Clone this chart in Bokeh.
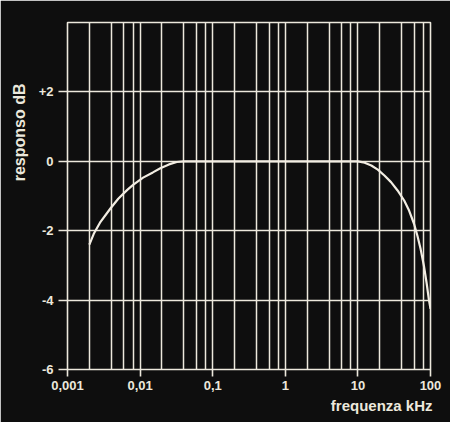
from bokeh.plotting import figure
from bokeh.models import FixedTicker, CustomJSTickFormatter, Range1d, Title
from bokeh.embed import file_html
from bokeh.resources import INLINE

# ---- data ----
freq_khz = [0.002, 0.0023, 0.0028, 0.0039, 0.005, 0.0066, 0.008, 0.011, 0.015, 0.019,
            0.025, 0.032, 0.04, 0.1, 1, 10, 12.4, 15.3, 18.8, 23.2, 28.6, 35.2, 43.4,
            50.7, 59.3, 65.9, 73.1, 81.1, 88.3, 94.9, 100]
resp_db = [-2.4, -2.09, -1.77, -1.36, -1.08, -0.83, -0.68, -0.47, -0.32, -0.2,
           -0.09, -0.02, 0.0, 0.0, 0.0, 0.0, -0.04, -0.12, -0.24, -0.41, -0.6, -0.84, -1.13,
           -1.42, -1.8, -2.14, -2.53, -3.01, -3.5, -3.98, -4.25]

x_major = [0.001, 0.01, 0.1, 1, 10, 100]
x_grid = [m * d for d in [0.001, 0.01, 0.1, 1, 10] for m in [1, 2, 4, 6, 8]] + [100]
y_ticks = [-6, -4, -2, 0, 2]

bg = "#0e0e0e"
fg = "#ece8dc"
font = "Liberation Sans"

p = figure(width=450, height=422, x_axis_type="log",
           x_range=Range1d(0.001, 100), y_range=Range1d(-6, 4),
           output_backend="svg", toolbar_location=None,
           background_fill_color=bg, border_fill_color=bg,
           min_border=0, min_border_left=67, min_border_right=20,
           min_border_top=22, min_border_bottom=53,
           outline_line_color=fg, outline_line_width=1.6)

# x axis
p.xaxis.ticker = FixedTicker(ticks=x_major, minor_ticks=[])
p.xaxis.formatter = CustomJSTickFormatter(code="return tick.toString().replace('.', ',');")
p.xaxis.axis_line_color = None
p.xaxis.major_tick_line_color = fg
p.xaxis.major_tick_line_width = 1.6
p.xaxis.major_tick_out = 7
p.xaxis.major_tick_in = 0
p.xaxis.minor_tick_line_color = None
p.xaxis.major_label_standoff = 4
p.xaxis.major_label_text_color = fg
p.xaxis.major_label_text_font = font
p.xaxis.major_label_text_font_style = "bold"
p.xaxis.major_label_text_font_size = "13px"

# y axis
p.yaxis.ticker = FixedTicker(ticks=y_ticks, minor_ticks=[])
p.yaxis.formatter = CustomJSTickFormatter(code="return tick > 0 ? '+' + tick : tick.toString();")
p.yaxis.axis_line_color = None
p.yaxis.major_tick_line_color = fg
p.yaxis.major_tick_line_width = 1.6
p.yaxis.major_tick_out = 9
p.yaxis.major_tick_in = 0
p.yaxis.minor_tick_line_color = None
p.yaxis.major_label_standoff = 5
p.yaxis.major_label_text_color = fg
p.yaxis.major_label_text_font = font
p.yaxis.major_label_text_font_style = "bold"
p.yaxis.major_label_text_font_size = "13px"

# grids
p.xgrid.ticker = FixedTicker(ticks=x_grid)
p.xgrid.grid_line_color = fg
p.xgrid.grid_line_width = 1.5
p.ygrid.grid_line_color = fg
p.ygrid.grid_line_width = 1.5

# response curve
p.line(freq_khz, resp_db, line_color="#f2ede2", line_width=2.2)

# axis titles
p.add_layout(Title(text="responso dB", align="right", offset=61, standoff=16,
                   text_color=fg, text_font=font, text_font_style="bold",
                   text_font_size="16px"), "left")
p.add_layout(Title(text="frequenza kHz", align="right", offset=-2, standoff=5,
                   text_color=fg, text_font=font, text_font_style="bold",
                   text_font_size="15px"), "below")

open("out.html", "w").write(file_html(p, INLINE))
